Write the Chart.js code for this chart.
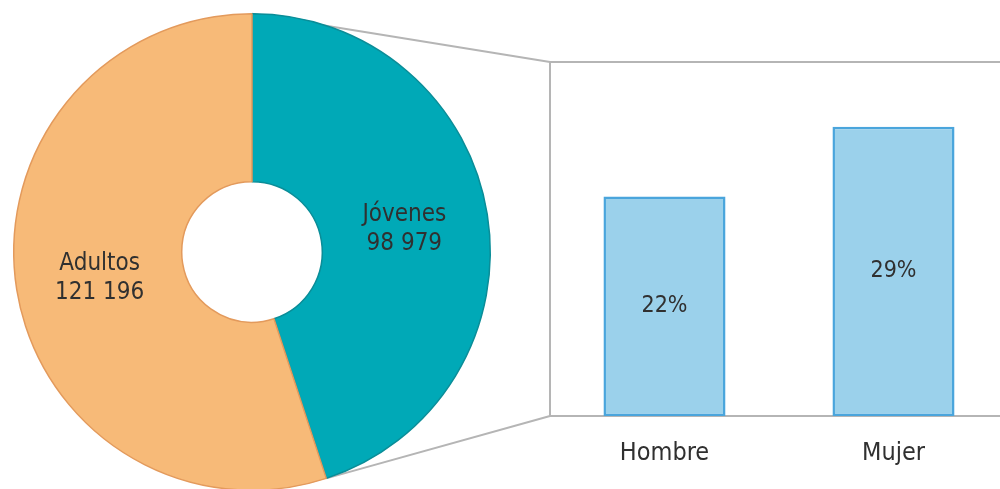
<!DOCTYPE html>
<html><head><meta charset="utf-8">
<script src="https://cdn.jsdelivr.net/npm/chart.js@4/dist/chart.umd.min.js"></script>
<style>
html,body{margin:0;padding:0;background:#fff;overflow:hidden;width:1000px;height:489px;}
#wrap{position:relative;width:1000px;height:489px;overflow:hidden;}
canvas{position:absolute;left:0;top:0;}
</style></head><body>
<div id="wrap">
<canvas id="pie" width="1000" height="500" style="width:1000px;height:500px"></canvas>
<canvas id="bar" width="1010" height="489" style="width:1010px;height:489px"></canvas>
</div>
<script>
// ---- data ----
const groupLabels = ['Jóvenes', 'Adultos'];
const groupValues = [98979, 121196];
const groupValueLabels = ['98 979', '121 196'];
const sexLabels = ['Hombre', 'Mujer'];
const sexValues = [22, 29];
const sexValueLabels = ['22%', '29%'];

const FONT = '"Liberation Sans Narrow", "DejaVu Sans Condensed", "Roboto Condensed", sans-serif';
const TEXT = '#303030';
const GREY = '#b5b5b5';
Chart.defaults.font.family = FONT;
Chart.defaults.color = TEXT;

// ---- bar chart (right) ----
const boxPlugin = {
  id: 'box',
  beforeDatasetsDraw(chart) {
    const {ctx, chartArea: a, width} = chart;
    ctx.save();
    ctx.strokeStyle = GREY;
    ctx.lineWidth = 2;
    ctx.beginPath();
    ctx.moveTo(width, a.top);
    ctx.lineTo(a.left, a.top);
    ctx.lineTo(a.left, a.bottom);
    ctx.lineTo(width, a.bottom);
    ctx.stroke();
    ctx.restore();
  }
};
const barLabelPlugin = {
  id: 'barLabels',
  afterDatasetsDraw(chart) {
    const {ctx} = chart;
    const meta = chart.getDatasetMeta(0);
    ctx.save();
    ctx.font = '23px ' + FONT;
    ctx.fillStyle = TEXT;
    ctx.textAlign = 'center';
    ctx.textBaseline = 'middle';
    meta.data.forEach((bar, i) => {
      ctx.fillText(sexValueLabels[i], bar.x, (bar.y + bar.base) / 2);
    });
    ctx.restore();
  }
};
const barChart = new Chart(document.getElementById('bar'), {
  type: 'bar',
  data: {
    labels: sexLabels,
    datasets: [{
      data: sexValues,
      backgroundColor: '#9bd1eb',
      borderColor: '#4aa5dc',
      borderWidth: 2.5,
      borderSkipped: false,
      categoryPercentage: 1,
      barPercentage: 0.533
    }]
  },
  options: {
    responsive: false,
    animation: false,
    layout: {padding: {left: 550, top: 62, right: 2, bottom: 0}},
    plugins: {legend: {display: false}, tooltip: {enabled: false}},
    scales: {
      x: {
        grid: {display: false, drawTicks: false},
        border: {display: false},
        ticks: {padding: 22, font: {size: 25}, color: TEXT},
        afterFit(scale) { scale.height = 73; }
      },
      y: {display: false, min: 0, max: 35.5}
    }
  },
  plugins: [boxPlugin, barLabelPlugin]
});

// ---- doughnut (left) ----
const connectorPlugin = {
  id: 'connector',
  beforeDatasetsDraw(chart) {
    const {ctx} = chart;
    const arc = chart.getDatasetMeta(0).data[0];
    const a = barChart.chartArea;
    const R = arc.outerRadius;
    ctx.save();
    ctx.strokeStyle = GREY;
    ctx.lineWidth = 2;
    ctx.beginPath();
    ctx.moveTo(arc.x + R * Math.cos(arc.startAngle), arc.y + R * Math.sin(arc.startAngle));
    ctx.lineTo(a.left, a.top);
    ctx.moveTo(arc.x + R * Math.cos(arc.endAngle), arc.y + R * Math.sin(arc.endAngle));
    ctx.lineTo(a.left, a.bottom);
    ctx.stroke();
    ctx.restore();
  }
};
const pieLabelPlugin = {
  id: 'pieLabels',
  afterDatasetsDraw(chart) {
    const {ctx} = chart;
    const meta = chart.getDatasetMeta(0);
    ctx.save();
    ctx.font = '24px ' + FONT;
    ctx.fillStyle = TEXT;
    ctx.textAlign = 'center';
    ctx.textBaseline = 'middle';
    meta.data.forEach((arc, i) => {
      const p = arc.tooltipPosition();
      ctx.fillText(groupLabels[i], p.x, p.y - 13);
      ctx.fillText(groupValueLabels[i], p.x, p.y + 16);
    });
    ctx.restore();
  }
};
new Chart(document.getElementById('pie'), {
  type: 'doughnut',
  data: {
    labels: groupLabels,
    datasets: [{
      data: groupValues,
      backgroundColor: ['#00a9b7', '#f7ba78'],
      borderColor: ['#0a8d98', '#e39a5c'],
      borderWidth: 1.5
    }]
  },
  options: {
    responsive: false,
    animation: false,
    cutout: '29.5%',
    layout: {padding: {left: 12, top: 13, right: 508, bottom: 9}},
    plugins: {legend: {display: false}, tooltip: {enabled: false}}
  },
  plugins: [connectorPlugin, pieLabelPlugin]
});
</script>
</body></html>
